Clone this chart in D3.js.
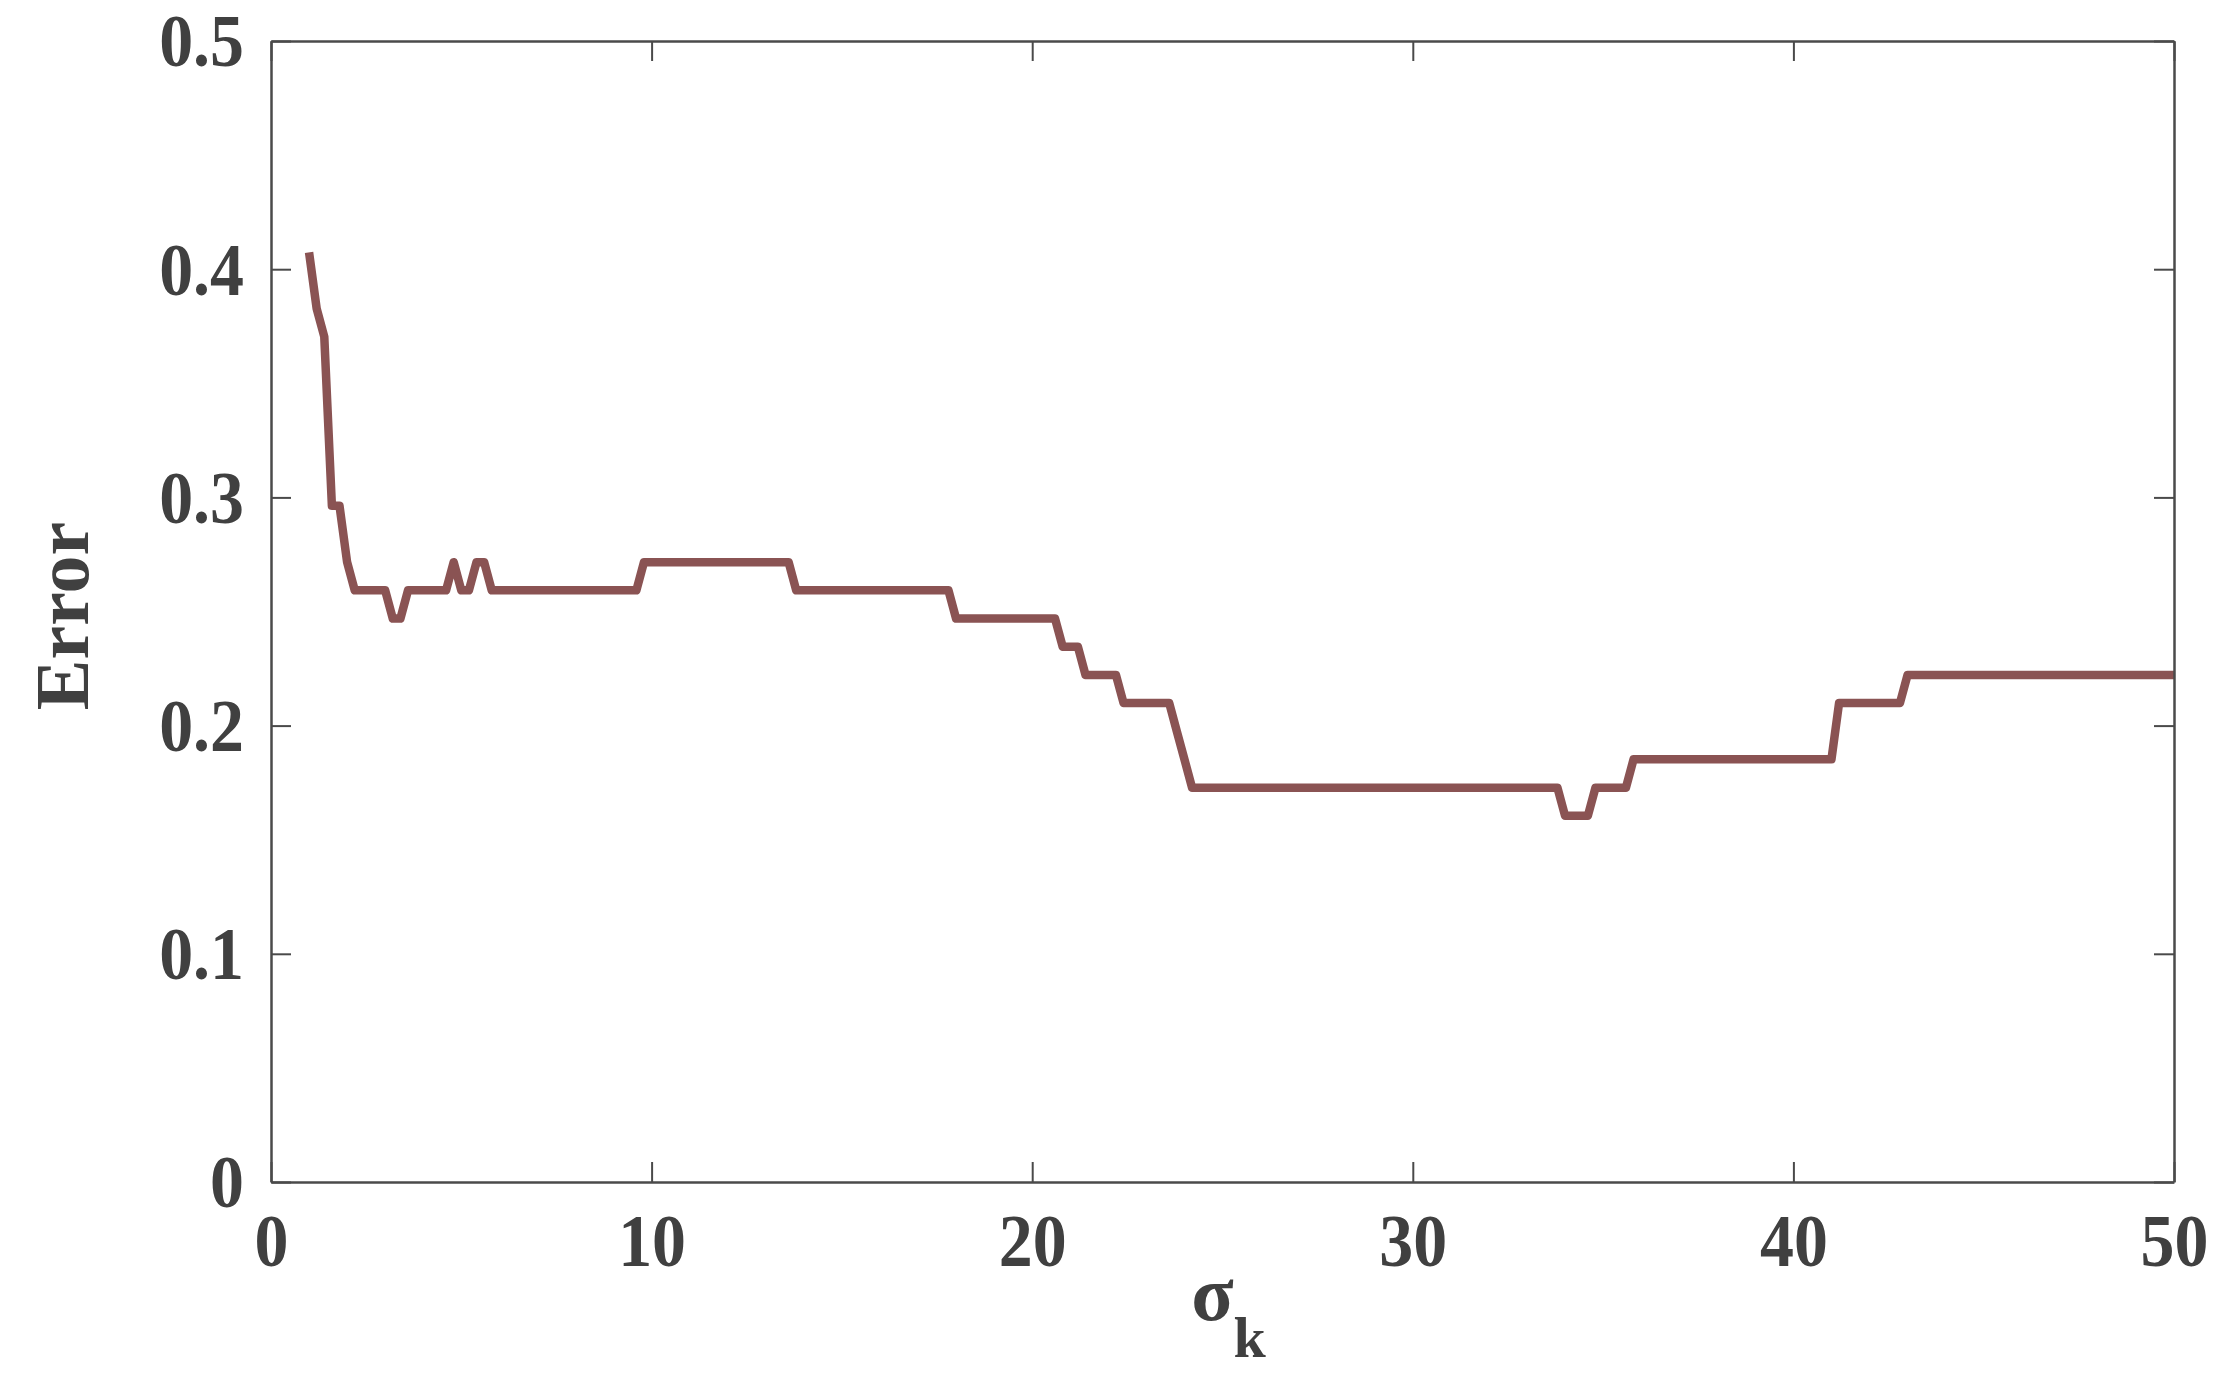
<!DOCTYPE html>
<html>
<head>
<meta charset="utf-8">
<script src="https://cdn.jsdelivr.net/npm/d3@7"></script>
<style>
  html, body { margin: 0; padding: 0; background: #fff; }
  svg { display: block; }
  text { font-family: "Liberation Serif", "Times New Roman", serif; font-weight: bold; fill: #404040; }
</style>
</head>
<body>
<script>
// Data: vertices of the error curve (sigma_k, error)
const sigmaK = [1.0, 1.2, 1.4, 1.6, 1.8, 2.0, 2.2, 3.0, 3.2, 3.4, 3.6, 4.6, 4.8, 5.0, 5.2, 5.4, 5.6, 5.8,
  9.6, 9.8, 13.6, 13.8, 17.8, 18.0, 20.6, 20.8, 21.2, 21.4, 22.2, 22.4, 23.6, 23.8, 24.0, 24.2,
  33.8, 34.0, 34.6, 34.8, 35.6, 35.8, 41.0, 41.2, 42.8, 43.0, 50.0];
const errorVals = [0.4074, 0.3827, 0.3704, 0.2963, 0.2963, 0.2716, 0.2593, 0.2593, 0.2469, 0.2469, 0.2593, 0.2593, 0.2716, 0.2593, 0.2593, 0.2716, 0.2716, 0.2593,
  0.2593, 0.2716, 0.2716, 0.2593, 0.2593, 0.2469, 0.2469, 0.2346, 0.2346, 0.2222, 0.2222, 0.2099, 0.2099, 0.1975, 0.1852, 0.1728,
  0.1728, 0.1605, 0.1605, 0.1728, 0.1728, 0.1852, 0.1852, 0.2099, 0.2099, 0.2222, 0.2222];
const xTicks = [0, 10, 20, 30, 40, 50];
const yTicks = [0, 0.1, 0.2, 0.3, 0.4, 0.5];
const yTickLabels = ["0", "0.1", "0.2", "0.3", "0.4", "0.5"];
const xTitle = "σ";
const xTitleSub = "k";
const yTitle = "Error";

const W = 2228, H = 1374;
const m = { left: 271, right: W - 2174, top: 41, bottom: H - 1182 };
const pw = W - m.left - m.right, ph = H - m.top - m.bottom;

const svg = d3.select("body").append("svg").attr("width", W).attr("height", H);
const g = svg.append("g").attr("transform", `translate(${m.left},${m.top})`);

const x = d3.scaleLinear().domain([0, 50]).range([0, pw]);
const y = d3.scaleLinear().domain([0, 0.5]).range([ph, 0]);

const axisColor = "#4a4a4a";
const tickLen = 20;

// Line
const data = sigmaK.map((s, i) => ({ s, e: errorVals[i] }));
g.append("path")
  .datum(data)
  .attr("fill", "none")
  .attr("stroke", "#8a5353")
  .attr("stroke-width", 8.5)
  .attr("stroke-linejoin", "round")
  .attr("d", d3.line().x(d => x(d.s)).y(d => y(d.e)));

// Axes (box with inward ticks on all sides)
const axBottom = g.append("g").attr("transform", `translate(0,${ph})`)
  .call(d3.axisBottom(x).tickValues(xTicks).tickSizeInner(-tickLen).tickSizeOuter(0).tickPadding(36).tickFormat(d3.format("d")));
const axTop = g.append("g")
  .call(d3.axisTop(x).tickValues(xTicks).tickSizeInner(-tickLen).tickSizeOuter(0).tickFormat(""));
const axLeft = g.append("g")
  .call(d3.axisLeft(y).tickValues(yTicks).tickSizeInner(-tickLen).tickSizeOuter(0).tickPadding(27).tickFormat((d, i) => yTickLabels[i]));
const axRight = g.append("g").attr("transform", `translate(${pw},0)`)
  .call(d3.axisRight(y).tickValues(yTicks).tickSizeInner(-tickLen).tickSizeOuter(0).tickFormat(""));

[axBottom, axTop, axLeft, axRight].forEach(a => {
  a.attr("font-family", null);
  a.select(".domain").attr("stroke", axisColor).attr("stroke-width", 2.5);
  a.selectAll(".tick line").attr("stroke", axisColor).attr("stroke-width", 2);
  a.selectAll("text").attr("font-size", 73).attr("fill", "#404040");
});
axLeft.selectAll(".tick text").attr("dy", "0.34em");
axBottom.selectAll(".tick text").attr("dy", "0.66em");

// slightly condensed tick labels, as in the reference
[axBottom, axLeft].forEach(a => {
  a.selectAll(".tick text").each(function () {
    const len = this.getComputedTextLength();
    if (len > 0) {
      d3.select(this).attr("textLength", len * 0.93).attr("lengthAdjust", "spacingAndGlyphs");
    }
  });
});

// Axis titles
const xt = svg.append("text")
  .attr("x", m.left + pw / 2 + 6)
  .attr("y", 1320)
  .attr("text-anchor", "middle");
xt.append("tspan").attr("font-size", 78).text(xTitle);
xt.append("tspan").attr("font-size", 58).attr("dy", 37).text(xTitleSub);

svg.append("text")
  .attr("transform", `translate(88,${616}) rotate(-90)`)
  .attr("text-anchor", "middle")
  .attr("font-size", 76)
  .text(yTitle);
</script>
</body>
</html>
